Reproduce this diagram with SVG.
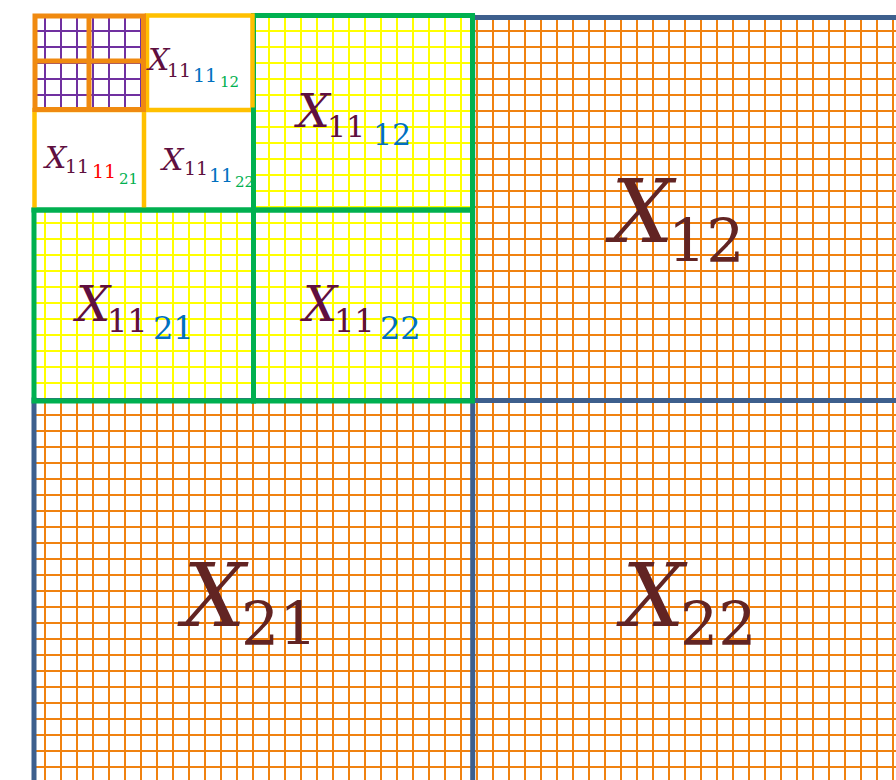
<svg xmlns="http://www.w3.org/2000/svg" width="896" height="780" viewBox="0 0 896 780">
  <defs>
    <pattern id="gOrange" patternUnits="userSpaceOnUse" x="37" y="23" width="16" height="16">
      <path d="M8 0V16M0 8H16" stroke="#F08210" stroke-width="2" fill="none"/>
    </pattern>
    <pattern id="gYellow" patternUnits="userSpaceOnUse" x="37" y="23" width="16" height="16">
      <path d="M8 0V16M0 8H16" stroke="#FFFF00" stroke-width="2" fill="none"/>
    </pattern>
    <pattern id="gPurple" patternUnits="userSpaceOnUse" x="37" y="23" width="16" height="16">
      <path d="M8 0V16M0 8H16" stroke="#7030A0" stroke-width="2" fill="none"/>
    </pattern>
  </defs>
  <style>
    .xb { font-family: "DejaVu Serif", "Liberation Serif", serif; font-style: italic; }
    .d { font-family: "DejaVu Serif", "Liberation Serif", serif; }
    .big { fill: #622423; }
    .mar { fill: #5F0F40; }
    .blu { fill: #0070C0; }
    .grn { fill: #00B050; }
    .red { fill: #FF0000; }
    .ln { fill: none; stroke-linecap: square; }
    .blue { stroke: #3D5F8D; stroke-width: 5; }
    .green { stroke: #00B050; stroke-width: 5; }
    .gold { stroke: #FFC000; stroke-width: 4.5; }
    .orng { stroke: #F08A10; stroke-width: 5; }
  </style>

  <rect x="0" y="0" width="896" height="780" fill="#FFFFFF"/>

  <!-- grids -->
  <g id="grids">
    <rect x="34" y="17" width="862" height="763" fill="url(#gOrange)"/>
    <rect x="34" y="16" width="438" height="385" fill="#FFFFFF"/>
    <rect x="34" y="16" width="438" height="385" fill="url(#gYellow)"/>
    <rect x="34" y="14" width="219" height="196" fill="#FFFFFF"/>
    <rect x="35" y="16" width="108" height="93" fill="url(#gPurple)"/>
  </g>

  <!-- partition borders -->
  <g id="connectors">
    <path class="ln blue" d="M472.5 17.5H896M472.7 17V780M34 400.5H896M34 400V780"/>
    <path class="ln green" d="M253.5 15.5H472.5V401H34V210M34 210H472.5M253.5 15.5V401"/>
    <path class="ln gold" d="M147 15.5H252.5V110H147ZM34.5 110V208M144 110V208M34.5 110H252.5"/>
    <path class="ln green" d="M34 210H472.5M253.5 110V401"/>
    <path class="ln orng" d="M35 16H143.5V109.5H35ZM89 16V109.5M35 61H143.5"/>
  </g>

  <g id="X12">
    <text class="xb big" x="611" y="242" font-size="88">X</text>
    <text class="d big" x="668" y="262" font-size="60">12</text>
  </g>
  <g id="X21">
    <text class="xb big" x="183" y="626" font-size="88">X</text>
    <text class="d big" x="241" y="645" font-size="60">21</text>
  </g>
  <g id="X22">
    <text class="xb big" x="622" y="626" font-size="88">X</text>
    <text class="d big" x="680" y="645" font-size="60">22</text>
  </g>

  <g id="X11_12">
    <text class="xb mar" x="297" y="126.7" font-size="46">X</text>
    <text class="d mar" x="327" y="136.7" font-size="30">11</text>
    <text class="d blu" x="373" y="145" font-size="30">12</text>
  </g>
  <g id="X11_21">
    <text class="xb mar" x="76" y="320.7" font-size="48">X</text>
    <text class="d mar" x="107" y="331.7" font-size="32">11</text>
    <text class="d blu" x="153" y="339.3" font-size="32">21</text>
  </g>
  <g id="X11_22">
    <text class="xb mar" x="303" y="320.7" font-size="48">X</text>
    <text class="d mar" x="334" y="331.7" font-size="32">11</text>
    <text class="d blu" x="380" y="339.3" font-size="32">22</text>
  </g>

  <g id="X1111_12">
    <text class="xb mar" x="148" y="70" font-size="30">X</text>
    <text class="d mar" x="167" y="76.7" font-size="19">11</text>
    <text class="d blu" x="193" y="81.7" font-size="19">11</text>
    <text class="d grn" x="220" y="87.3" font-size="15">12</text>
  </g>
  <g id="X1111_21">
    <text class="xb mar" x="45" y="168.3" font-size="30">X</text>
    <text class="d mar" x="65" y="173.3" font-size="19">11</text>
    <text class="d red" x="92" y="178.3" font-size="19">11</text>
    <text class="d grn" x="119" y="184" font-size="15">21</text>
  </g>
  <g id="X1111_22">
    <text class="xb mar" x="162" y="170" font-size="30">X</text>
    <text class="d mar" x="184" y="175" font-size="19">11</text>
    <text class="d blu" x="209" y="181.7" font-size="19">11</text>
    <text class="d grn" x="235" y="186.7" font-size="15">22</text>
  </g>
</svg>
